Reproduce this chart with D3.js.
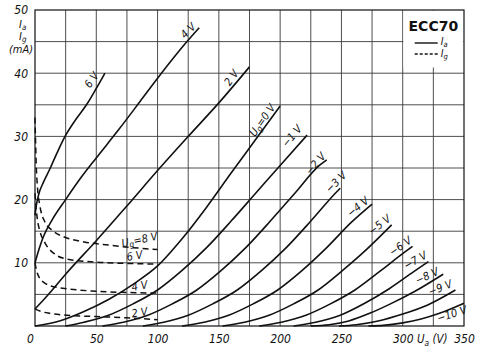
<!DOCTYPE html>
<html><head><meta charset="utf-8">
<script src="https://cdn.jsdelivr.net/npm/d3@7"></script>
<style>body{margin:0;background:#fff} svg{display:block}</style>
</head><body>
<svg id="c" width="490" height="360"></svg>
<script>
// ---- data ----
const uaTicks = [0, 50, 100, 150, 200, 250, 300, 350];
const iaTicks = [10, 20, 30, 40, 50];
const uaGrid = [25, 50, 75, 100, 125, 150, 175, 200, 225, 250, 275, 300, 325];
const iaGrid = [5, 10, 15, 20, 25, 30, 35, 40, 45];

const iaLabels = ["6 V", "4 V", "2 V", "Ug=0 V", "−1 V", "−2 V", "−3 V", "−4 V", "−5 V", "−6 V", "−7 V", "−8 V", "−9 V", "−10 V"];
const ia_p6 = [[0,17.5],[1,19],[3,20.8],[7,22.8],[12,24.8],[18,27.4],[24.5,30],[33,32.6],[42,35],[50,37.6],[57,40]];
const ia_p4 = [[0,10],[3,12],[7,14.2],[14,16.8],[25,20],[38,23.6],[50,26.6],[68,31],[86,35.6],[100,39.2],[124,45],[134,47.2]];
const ia_p2 = [[0,2.7],[10,4.8],[25,8.2],[50,13.5],[75,19],[100,24.6],[125,30],[150,35.3],[175,41]];
const ia_0  = [[0,0],[20,0.8],[40,2.3],[60,4.2],[80,6.6],[100,9.5],[120,13.8],[140,18.8],[160,24.2],[180,29.5],[200,34.8]];
const ia_m1 = [[25,0],[40,0.6],[60,1.7],[80,3.5],[100,5.7],[120,8.8],[140,12.4],[160,16.6],[180,21],[200,25.4],[222,30.2]];
const ia_m2 = [[55,0],[72,0.6],[92,1.7],[112,3.5],[132,5.7],[152,8.8],[172,12.4],[192,16.6],[212,21],[232,25.4],[238,26.3]];
const ia_m3 = [[88,0],[105,0.6],[125,1.7],[145,3.5],[165,5.7],[185,8.8],[205,12.4],[225,16.6],[245,21],[249,21.8]];
const ia_m4 = [[120,0],[138,0.6],[158,1.7],[178,3.5],[198,5.7],[218,8.8],[238,12.4],[258,16.4],[275,19.3]];
const ia_m5 = [[153,0],[171,0.6],[191,1.7],[211,3.5],[231,5.7],[251,8.8],[271,12.2],[291,16]];
const ia_m6 = [[183,0],[201,0.6],[221,1.7],[241,3.5],[261,5.7],[281,8.6],[301,11.6],[308,12.6]];
const ia_m7 = [[211,0],[229,0.6],[249,1.7],[269,3.6],[289,5.9],[309,8.6],[321,10.2]];
const ia_m8 = [[225,0],[240,0.2],[256,0.8],[273,2],[290,3.5],[310,5.5],[333,8.2]];
const ia_m9 = [[248,0],[262,0.2],[280,0.8],[300,1.9],[320,3.3],[343,5.7]];
const ia_m10 = [[272,0],[284,0.1],[300,0.5],[315,1.1],[330,2],[350,3.6]];

const igLabels = ["Ug=8 V", "6 V", "4 V", "2 V"];
const ig_p8 = [[0,33],[0.5,29],[1,25.5],[2,22],[4,19],[8,16.5],[15,15],[25,14],[40,13.3],[60,12.8],[80,12.4],[100,12.1]];
const ig_p6 = [[0,21],[1,18.5],[2,16.8],[4,15],[8,13.2],[16,11.4],[26,10.6],[50,10.1],[75,9.9],[100,9.8]];
const ig_p4 = [[0,10],[1,9],[2,8.3],[4,7.5],[8,6.8],[12,6.4],[26,5.9],[50,5.5],[75,5.3],[100,5.2]];
const ig_p2 = [[0,2.7],[5,2.3],[12,2],[26,1.7],[50,1.5],[75,1.3],[100,1.0]];

const iaSeries = [ia_p6, ia_p4, ia_p2, ia_0, ia_m1, ia_m2, ia_m3, ia_m4, ia_m5, ia_m6, ia_m7, ia_m8, ia_m9, ia_m10];
const igSeries = [ig_p8, ig_p6, ig_p4, ig_p2];

// ---- layout (pixel offsets of labels from curve ends, rotation) ----
const iaLabelLayout = [[-13,7,-55],[-11,3,-45],[-18,11,-55],[-18,14,-55],[-15,1,-50],[-11,4,-50],[-4,-6,-45],[-14,3,-40],[-12,0,-38],[-12,0,-35],[-13,-1,-30],[-16,2,-25],[-15,-2,-22],[-12,11,-18]];
const igLabelLayout = [[-18,-10,-12],[-23,-8,-10],[-18,-7,-10],[-18,-7,-10]];

const FONT = "'DejaVu Sans Condensed','Liberation Sans Narrow','Liberation Sans',sans-serif";
const svg = d3.select("#c");
const x = d3.scaleLinear().domain([0, 350]).range([35, 464]);
const y = d3.scaleLinear().domain([0, 50]).range([326, 10]);

// grid
const grid = svg.append("g").attr("stroke", "#3a3a3a").attr("stroke-width", 0.9);
grid.selectAll("line.v").data(uaGrid).join("line")
  .attr("x1", d => x(d)).attr("x2", d => x(d)).attr("y1", y(0)).attr("y2", y(50));
grid.selectAll("line.h").data(iaGrid).join("line")
  .attr("y1", d => y(d)).attr("y2", d => y(d)).attr("x1", x(0)).attr("x2", x(350));

// legend box (clear grid)
svg.append("rect").attr("x", x(300) + 0.6).attr("y", y(50) + 0.6)
  .attr("width", x(350) - x(300) - 1.2).attr("height", y(41) - y(50)).attr("fill", "#fff");

// frame
svg.append("rect").attr("x", x(0)).attr("y", y(50)).attr("width", x(350) - x(0)).attr("height", y(0) - y(50))
  .attr("fill", "none").attr("stroke", "#111").attr("stroke-width", 1.2);

// axes
const xa = svg.append("g").attr("transform", `translate(0,${y(0)})`)
  .call(d3.axisBottom(x).tickValues(uaTicks).tickSize(0).tickPadding(8));
xa.select(".domain").remove();
xa.selectAll("text").attr("font-family", FONT).attr("font-style", "italic").attr("font-size", 12).attr("fill", "#111")
  .attr("dx", d => d === 0 ? -5 : 0);
const ya = svg.append("g").attr("transform", `translate(${x(0)},0)`)
  .call(d3.axisLeft(y).tickValues(iaTicks).tickSize(0).tickPadding(7));
ya.select(".domain").remove();
ya.selectAll("text").attr("font-family", FONT).attr("font-style", "italic").attr("font-size", 12).attr("fill", "#111");

// axis titles
function subText(g, main, sub, rest, size) {
  const t = g.append("text").attr("font-family", FONT).attr("font-style", "italic").attr("font-size", size).attr("fill", "#111");
  t.append("tspan").text(main);
  t.append("tspan").attr("font-size", size * 0.72).attr("dy", size * 0.22).text(sub);
  if (rest) t.append("tspan").attr("dy", -size * 0.22).text(rest);
  return t;
}
subText(svg, "I", "a", "", 11).attr("x", 19).attr("y", 28);
subText(svg, "I", "g", "", 11).attr("x", 19).attr("y", 40);
svg.append("text").attr("x", 21).attr("y", 53).attr("text-anchor", "middle").attr("font-family", FONT)
  .attr("font-style", "italic").attr("font-size", 11).attr("fill", "#111").text("(mA)");
subText(svg, "U", "a", " (V)", 11.5).attr("x", 417).attr("y", 343);

// curves
const line = d3.line().x(d => x(d[0])).y(d => y(d[1])).curve(d3.curveMonotoneX);
svg.append("g").selectAll("path").data(iaSeries).join("path")
  .attr("d", line).attr("fill", "none").attr("stroke", "#111").attr("stroke-width", 1.6);
svg.append("g").selectAll("path").data(igSeries).join("path")
  .attr("d", line).attr("fill", "none").attr("stroke", "#111").attr("stroke-width", 1.5).attr("stroke-dasharray", "6,4");

// labels
function curveLabel(txt, pts, lay, size) {
  const end = pts[pts.length - 1];
  const cx = x(end[0]) + lay[0], cy = y(end[1]) + lay[1];
  const t = svg.append("text").attr("font-family", FONT).attr("font-style", "italic").attr("font-size", size)
    .attr("fill", "#111").attr("text-anchor", "middle").attr("dominant-baseline", "central")
    .attr("transform", `translate(${cx},${cy}) rotate(${lay[2]})`);
  if (txt.startsWith("Ug")) {
    t.append("tspan").text("U");
    t.append("tspan").attr("font-size", size * 0.75).attr("dy", size * 0.25).text("g");
    t.append("tspan").attr("dy", -size * 0.25).text(txt.slice(2));
  } else t.text(txt);
}
iaLabels.forEach((l, i) => curveLabel(l, iaSeries[i], iaLabelLayout[i], 11));
igLabels.forEach((l, i) => curveLabel(l, igSeries[i], igLabelLayout[i], 11));

// legend
const lx = x(300), ly = y(50);
svg.append("text").attr("x", (x(300) + x(350)) / 2).attr("y", ly + 21).attr("text-anchor", "middle")
  .attr("font-family", "'DejaVu Sans',sans-serif").attr("font-weight", "bold").attr("font-size", 14).attr("fill", "#111").text("ECC70");
svg.append("line").attr("x1", lx + 12).attr("x2", lx + 35).attr("y1", ly + 33).attr("y2", ly + 33).attr("stroke", "#111").attr("stroke-width", 1.4);
svg.append("line").attr("x1", lx + 12).attr("x2", lx + 35).attr("y1", ly + 44).attr("y2", ly + 44).attr("stroke", "#111").attr("stroke-width", 1.4).attr("stroke-dasharray", "3,2");
subText(svg, "I", "a", "", 10.5).attr("x", lx + 38).attr("y", ly + 35);
subText(svg, "I", "g", "", 10.5).attr("x", lx + 38).attr("y", ly + 47);
</script>
</body></html>
